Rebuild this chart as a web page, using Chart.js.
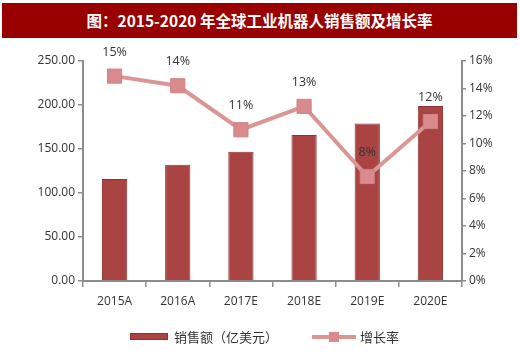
<!DOCTYPE html>
<html>
<head>
<meta charset="utf-8">
<script src="https://cdn.jsdelivr.net/npm/chart.js@4"></script>
<style>
  body { margin: 0; background: #fff; width: 520px; height: 361px; overflow: hidden; position: relative; font-family: "Noto Sans CJK SC", sans-serif; }
  #title { position: absolute; left: 2px; top: 3px; width: 515px; height: 35px; background: #990000; color: #fff; font-weight: bold; font-size: 15.5px; line-height: 35px; text-align: center; }
  #wrap { position: absolute; left: 0; top: 0; width: 520px; height: 361px; }
  #legend { position: absolute; left: 0; top: 327px; width: 520px; height: 20px; font-size: 13px; color: #333; }
  .item { position: absolute; top: 0; height: 20px; line-height: 20px; }
  .sw { position: absolute; }
</style>
</head>
<body>
<div id="wrap"><canvas id="chart" width="520" height="361"></canvas></div>
<div id="title">图：2015-2020 年全球工业机器人销售额及增长率</div>
<div id="legend">
  <div class="item" style="left:130px">
    <div class="sw" style="left:0;top:6px;width:38px;height:7px;background:#a94442;border:1px solid #8e3333;box-sizing:border-box"></div>
    <span style="position:absolute;left:44px;white-space:nowrap">销售额（亿美元）</span>
  </div>
  <div class="item" style="left:312px">
    <div class="sw" style="left:0;top:8px;width:44px;height:4px;background:#d99694"></div>
    <div class="sw" style="left:17px;top:5px;width:10px;height:10px;background:#d88a8c"></div>
    <span style="position:absolute;left:48px;white-space:nowrap">增长率</span>
  </div>
</div>
<script>
const categories = ['2015A', '2016A', '2017E', '2018E', '2019E', '2020E'];
const sales = [116, 132, 147, 166, 179, 199];
const growth = [14.9, 14.2, 11.0, 12.7, 7.6, 11.6];
const leftTicks = [0, 50, 100, 150, 200, 250];
const rightTicks = [0, 2, 4, 6, 8, 10, 12, 14, 16];

// percent labels above the line markers
const pctLabels = {
    id: 'pctLabels',
    afterDatasetsDraw(chart) {
        const meta = chart.getDatasetMeta(1);
        const ctx = chart.ctx;
        ctx.save();
        ctx.font = '12.5px "Open Sans", sans-serif';
        ctx.fillStyle = '#333';
        ctx.textAlign = 'center';
        ctx.textBaseline = 'middle';
        meta.data.forEach(function (pt, i) {
            ctx.fillText(Math.round(growth[i]) + '%', pt.x, pt.y - 24);
        });
        ctx.restore();
    }
};

const tickFont = { family: '"Open Sans", sans-serif', size: 12 };

new Chart(document.getElementById('chart'), {
    data: {
        labels: categories,
        datasets: [{
            type: 'bar',
            label: '销售额（亿美元）',
            data: sales,
            yAxisID: 'y',
            backgroundColor: '#a94442',
            borderColor: '#8e3333',
            borderWidth: 1,
            barPercentage: 0.8,
            categoryPercentage: 0.5,
            order: 2
        }, {
            type: 'line',
            label: '增长率',
            data: growth,
            yAxisID: 'y1',
            borderColor: '#d99694',
            borderWidth: 4,
            pointStyle: 'rect',
            pointRadius: 10,
            pointBackgroundColor: '#d88a8c',
            pointBorderColor: '#cf8486',
            pointBorderWidth: 1,
            order: 1
        }]
    },
    options: {
        responsive: false,
        animation: false,
        devicePixelRatio: 1,
        layout: { padding: { top: 61, left: 0, right: 0, bottom: 0 } },
        plugins: { legend: { display: false }, tooltip: { enabled: false } },
        scales: {
            x: {
                grid: { drawOnChartArea: false, color: '#8c8c8c', tickLength: 6, lineWidth: 1.5 },
                border: { color: '#8c8c8c', width: 2 },
                ticks: { font: tickFont, color: '#333', padding: 7, maxRotation: 0, autoSkip: false },
                afterFit: function (s) { s.height = 80; }
            },
            y: {
                position: 'left',
                min: 0, max: 250,
                afterBuildTicks: function (s) { s.ticks = leftTicks.map(v => ({ value: v })); },
                grid: { drawOnChartArea: false, color: '#8c8c8c', tickLength: 5, lineWidth: 1.5 },
                border: { color: '#8c8c8c', width: 2 },
                ticks: { font: tickFont, color: '#333', padding: 3, callback: v => v.toFixed(2) },
                afterFit: function (s) { s.width = 83; }
            },
            y1: {
                position: 'right',
                min: 0, max: 16,
                afterBuildTicks: function (s) { s.ticks = rightTicks.map(v => ({ value: v })); },
                grid: { drawOnChartArea: false, color: '#8c8c8c', tickLength: 4, lineWidth: 1.5 },
                border: { color: '#8c8c8c', width: 2 },
                ticks: { font: tickFont, color: '#333', padding: 3, callback: v => v + '%' },
                afterFit: function (s) { s.width = 58; }
            }
        }
    },
    plugins: [pctLabels]
});
</script>
</body>
</html>
